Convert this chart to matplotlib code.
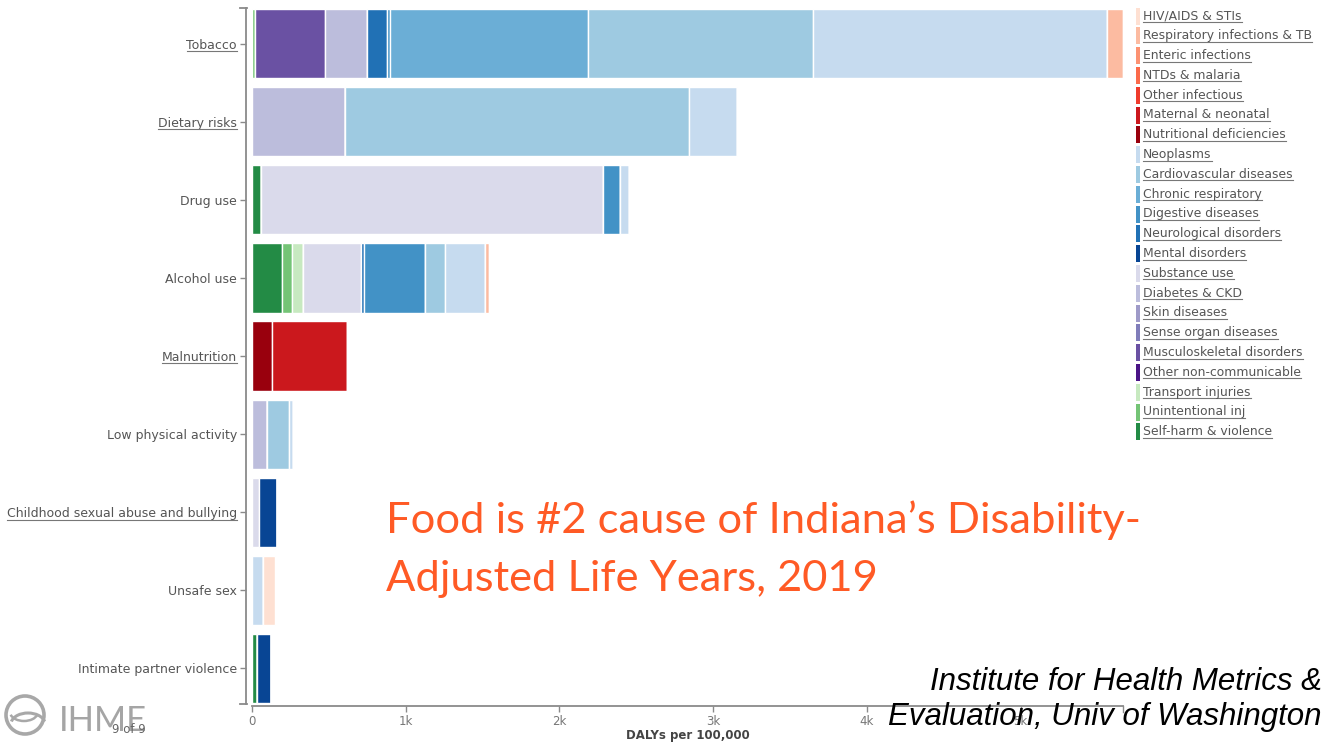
import matplotlib
matplotlib.use("Agg")
import matplotlib.pyplot as plt
import numpy as np
from matplotlib.lines import Line2D
from matplotlib.patches import Rectangle, Ellipse, Arc

W, H = 1324, 744

# ---------------- data ----------------
risks = ["Tobacco", "Dietary risks", "Drug use", "Alcohol use", "Malnutrition",
         "Low physical activity", "Childhood sexual abuse and bullying",
         "Unsafe sex", "Intimate partner violence"]
underlined_risks = ["Tobacco", "Dietary risks", "Malnutrition",
                    "Childhood sexual abuse and bullying"]

causes = ["HIV/AIDS & STIs", "Respiratory infections & TB", "Enteric infections",
          "NTDs & malaria", "Other infectious", "Maternal & neonatal",
          "Nutritional deficiencies", "Neoplasms", "Cardiovascular diseases",
          "Chronic respiratory", "Digestive diseases", "Neurological disorders",
          "Mental disorders", "Substance use", "Diabetes & CKD", "Skin diseases",
          "Sense organ diseases", "Musculoskeletal disorders",
          "Other non-communicable", "Transport injuries", "Unintentional inj",
          "Self-harm & violence"]
cause_colors = ["#fee0d2", "#fcbba1", "#fc9272", "#fb6a4a", "#ef3b2c", "#cb181d",
                "#99000d", "#c6dbef", "#9ecae1", "#6baed6", "#4292c6", "#2171b5",
                "#084594", "#dadaeb", "#bcbddc", "#9e9ac8", "#807dba", "#6a51a3",
                "#4a1486", "#c7e9c0", "#74c476", "#238b45"]

# DALYs per 100,000 by cause for each risk
tobacco = {"Unintentional inj": 22, "Musculoskeletal disorders": 453,
           "Diabetes & CKD": 276, "Neurological disorders": 130,
           "Digestive diseases": 17, "Chronic respiratory": 1288,
           "Cardiovascular diseases": 1462, "Neoplasms": 1912,
           "Respiratory infections & TB": 106}
dietary = {"Diabetes & CKD": 605, "Cardiovascular diseases": 2240, "Neoplasms": 313}
drug_use = {"Self-harm & violence": 60, "Substance use": 2223,
            "Digestive diseases": 113, "Neoplasms": 54}
alcohol = {"Self-harm & violence": 193, "Unintentional inj": 65,
           "Transport injuries": 76, "Substance use": 374,
           "Neurological disorders": 21, "Digestive diseases": 397,
           "Cardiovascular diseases": 131, "Neoplasms": 260,
           "Respiratory infections & TB": 26}
malnutrition = {"Nutritional deficiencies": 128, "Maternal & neonatal": 492}
low_activity = {"Diabetes & CKD": 100, "Cardiovascular diseases": 143, "Neoplasms": 26}
childhood_abuse = {"Substance use": 46, "Mental disorders": 115}
unsafe_sex = {"Neoplasms": 74, "HIV/AIDS & STIs": 78}
partner_violence = {"Self-harm & violence": 33, "Mental disorders": 91}

risk_data = [tobacco, dietary, drug_use, alcohol, malnutrition, low_activity,
             childhood_abuse, unsafe_sex, partner_violence]

x_ticks = [0, 1000, 2000, 3000, 4000, 5000]
x_tick_labels = ["0", "1k", "2k", "3k", "4k", "5k"]

# ---------------- figure ----------------
plt.rcParams["font.family"] = ["DejaVu Sans"]
fig = plt.figure(figsize=(W / 100, H / 100), dpi=100)
fig.patch.set_facecolor("white")


def fx(px):
    return px / W


def fy(py):
    return 1 - py / H


ax_left, ax_right, ax_top, ax_bottom = 252, 1123, 8, 704
ax = fig.add_axes([fx(ax_left), fy(ax_bottom), (ax_right - ax_left) / W,
                   (ax_bottom - ax_top) / H])

bh = 0.886
ypos = np.arange(len(risks))
left = np.zeros(len(risks))
stack_order = list(range(len(causes)))[::-1]
for ci in stack_order:
    c = causes[ci]
    vals = np.array([d.get(c, 0) for d in risk_data], dtype=float)
    if vals.sum() == 0:
        continue
    ax.barh(ypos, vals, left=left, height=bh, color=cause_colors[ci],
            edgecolor="white", linewidth=1.0)
    left += vals

ax.set_xlim(0, left.max())
ax.set_ylim(len(risks) - 1 + bh / 2 + 0.013, -bh / 2 - 0.013)

for s in ["top", "right"]:
    ax.spines[s].set_visible(False)
ax.spines["left"].set_position(("outward", 4.3))
ax.spines["bottom"].set_position(("outward", 1.5))
for s in ["left", "bottom"]:
    ax.spines[s].set_color("#8a8a8a")
    ax.spines[s].set_linewidth(1.3)

ax.set_yticks(ypos)
ax.set_yticklabels(risks, fontsize=9.0, color="#555555")
ax.set_xticks(x_ticks)
ax.set_xticklabels(x_tick_labels, fontsize=8.5, color="#777777")
ax.tick_params(axis="y", length=4, width=1, color="#8a8a8a", pad=2.5)
ax.tick_params(axis="x", length=4, width=1, color="#8a8a8a", pad=2.5)

# outer ticks at the axis ends
for yy in (ax_top, ax_bottom):
    fig.add_artist(Line2D([fx(240), fx(246.5)], [fy(yy), fy(yy)],
                          transform=fig.transFigure, color="#8a8a8a", lw=1.3))
fig.add_artist(Line2D([fx(ax_right), fx(ax_right)], [fy(706), fy(712)],
                      transform=fig.transFigure, color="#8a8a8a", lw=1.0))

fig.text(fx((ax_left + ax_right) / 2), fy(736), "DALYs per 100,000", ha="center",
         va="center", fontsize=8.5, fontweight="bold", color="#444444")

# legend
legend_texts = []
for i, (c, col) in enumerate(zip(causes, cause_colors)):
    yc = 16 + i * 19.8
    fig.add_artist(Rectangle((fx(1136), fy(yc + 8.5)), 3.5 / W, 17 / H,
                             transform=fig.transFigure, color=col, lw=0))
    t = fig.text(fx(1143), fy(yc), c, ha="left", va="center", fontsize=8.9,
                 color="#555555")
    legend_texts.append(t)

# headline
title_color = "#ff5a25"
fig.text(fx(386), fy(533), "Food is #2 cause of Indiana\u2019s Disability-",
         fontsize=31.3, color=title_color, family=["Lato", "DejaVu Sans"],
         va="baseline", ha="left")
fig.text(fx(386), fy(591), "Adjusted Life Years, 2019",
         fontsize=31.3, color=title_color, family=["Lato", "DejaVu Sans"],
         va="baseline", ha="left")

# source
fig.text(fx(1322), fy(690), "Institute for Health Metrics &", ha="right",
         va="baseline", fontsize=22.5, style="italic", family="Liberation Sans",
         color="black")
fig.text(fx(1322), fy(725), "Evaluation, Univ of Washington", ha="right",
         va="baseline", fontsize=22.5, style="italic", family="Liberation Sans",
         color="black")

# IHME logo
fig.add_artist(Ellipse((fx(25), fy(715)), 38 / W, 38 / H, transform=fig.transFigure,
                       fill=False, ec="#a8a8a8", lw=2.6))
fig.add_artist(Arc((fx(28), fy(724)), 34 / W, 22 / H, theta1=15, theta2=165,
                   transform=fig.transFigure, ec="#a8a8a8", lw=2.2))
fig.add_artist(Arc((fx(24), fy(712)), 28 / W, 18 / H, theta1=200, theta2=340,
                   transform=fig.transFigure, ec="#a8a8a8", lw=1.8))
fig.text(fx(59), fy(731), "IHME", fontsize=25, color="#a5a5a5",
         family=["Lato", "DejaVu Sans"], va="baseline", ha="left")
fig.text(fx(129), fy(733), "9 of 9", fontsize=8.5, color="#666666",
         ha="center", va="baseline")

# underlines
fig.canvas.draw()
renderer = fig.canvas.get_renderer()
under = [t for t in ax.get_yticklabels() if t.get_text() in underlined_risks]
under += legend_texts
for t in under:
    bb = t.get_window_extent(renderer)
    yline = bb.y0 + 0.5
    fig.add_artist(Line2D([bb.x0 / W, bb.x1 / W], [yline / H, yline / H],
                          transform=fig.transFigure, color="#777777", lw=0.8))

fig.savefig("out.png", dpi=100)
